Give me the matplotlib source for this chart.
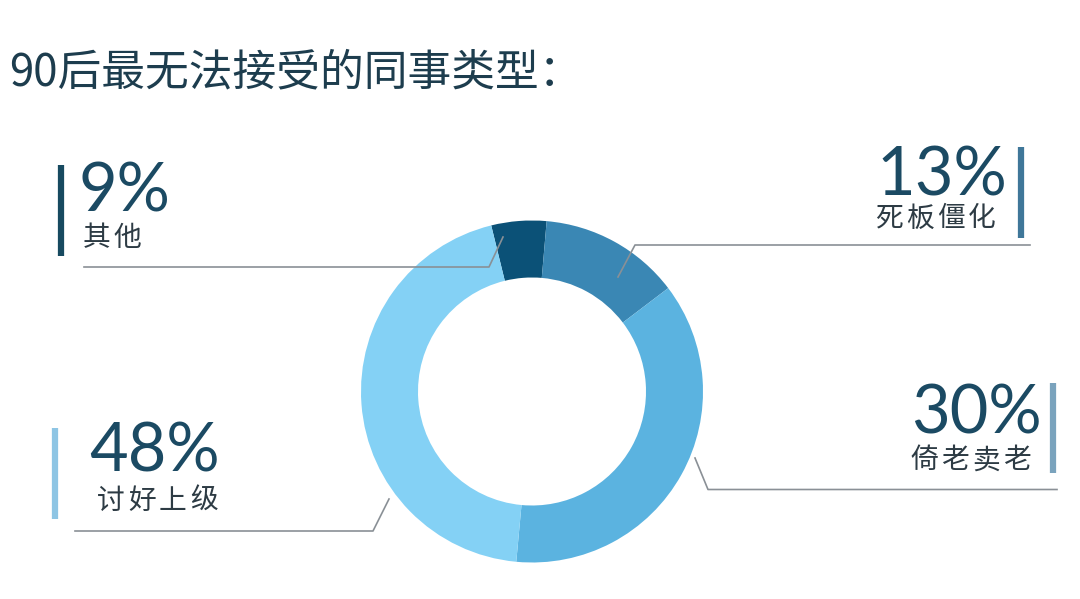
import matplotlib.pyplot as plt

plt.rcParams['font.family'] = ['Noto Sans CJK SC', 'DejaVu Sans']

W, H = 1080, 599

title = "90后最无法接受的同事类型："
labels = ["其他", "死板僵化", "倚老卖老", "讨好上级"]
pct = [9, 13, 30, 48]
# the ring in the picture is not drawn to the printed shares, these are read off it
slices = [5.2, 13.3, 36.8, 44.7]
colors = ["#0b5177", "#3a87b4", "#5bb3e0", "#84d1f5"]
bar_colors = ["#174a60", "#3f7799", "#7aa3bd", "#8ec5e4"]

num_color = "#1b4a63"
txt_color = "#2d3b44"
line_color = "#8a9096"


def fy(y):
    # pixel rows from the top -> data y
    return H - y


fig = plt.figure(figsize=(W / 100, H / 100), dpi=100)
ax = fig.add_axes([0, 0, 1, 1])

ax.pie(slices, colors=colors, startangle=103.8, counterclock=False,
       center=(532, fy(391.5)), radius=171,
       wedgeprops=dict(width=57, linewidth=0))
ax.set_xlim(0, W)
ax.set_ylim(0, H)
ax.set_aspect('equal')
ax.axis('off')

fig.text(9 / W, 1 - 85 / H, title, fontsize=31.5, color="#1d3d4e",
         va='baseline', ha='left')

# label blocks: (number x, number baseline, align, label left x, label mid y, bar x, bar top, bar bottom)
blocks = [
    (79, 211.5, 'left', 83, 238, 60.7, 165, 256),
    (1007, 195, 'right', 875, 218.5, 1020.7, 147, 238),
    (1042, 433, 'right', 910, 460.5, 1053.3, 383, 473),
    (220, 471.5, 'right', 97, 501, 55, 428, 519),
]
for i, (nx, ny, ha, lx, ly, bx, bt, bb) in enumerate(blocks):
    ax.text(nx, fy(ny), f"{pct[i]}%", fontsize=48, color=num_color,
            family=['Lato', 'DejaVu Sans'], fontweight='normal',
            ha=ha, va='baseline')
    for k, ch in enumerate(labels[i]):
        ax.text(lx + k * 31, fy(ly), ch, fontsize=20, color=txt_color,
                ha='left', va='center')
    ax.plot([bx, bx], [fy(bt), fy(bb)], color=bar_colors[i], lw=4.5,
            solid_capstyle='butt')

# leader lines
leaders = [
    [(503, 237), (489, 267), (84, 267)],
    [(618, 277), (635, 245), (1030, 245)],
    [(695, 458), (708, 489.5), (1057, 489.5)],
    [(389, 499), (373, 531), (75, 531)],
]
for pts in leaders:
    ax.plot([p[0] for p in pts], [fy(p[1]) for p in pts], color=line_color,
            lw=1.2)

fig.savefig("out.png", dpi=100, facecolor="white")
